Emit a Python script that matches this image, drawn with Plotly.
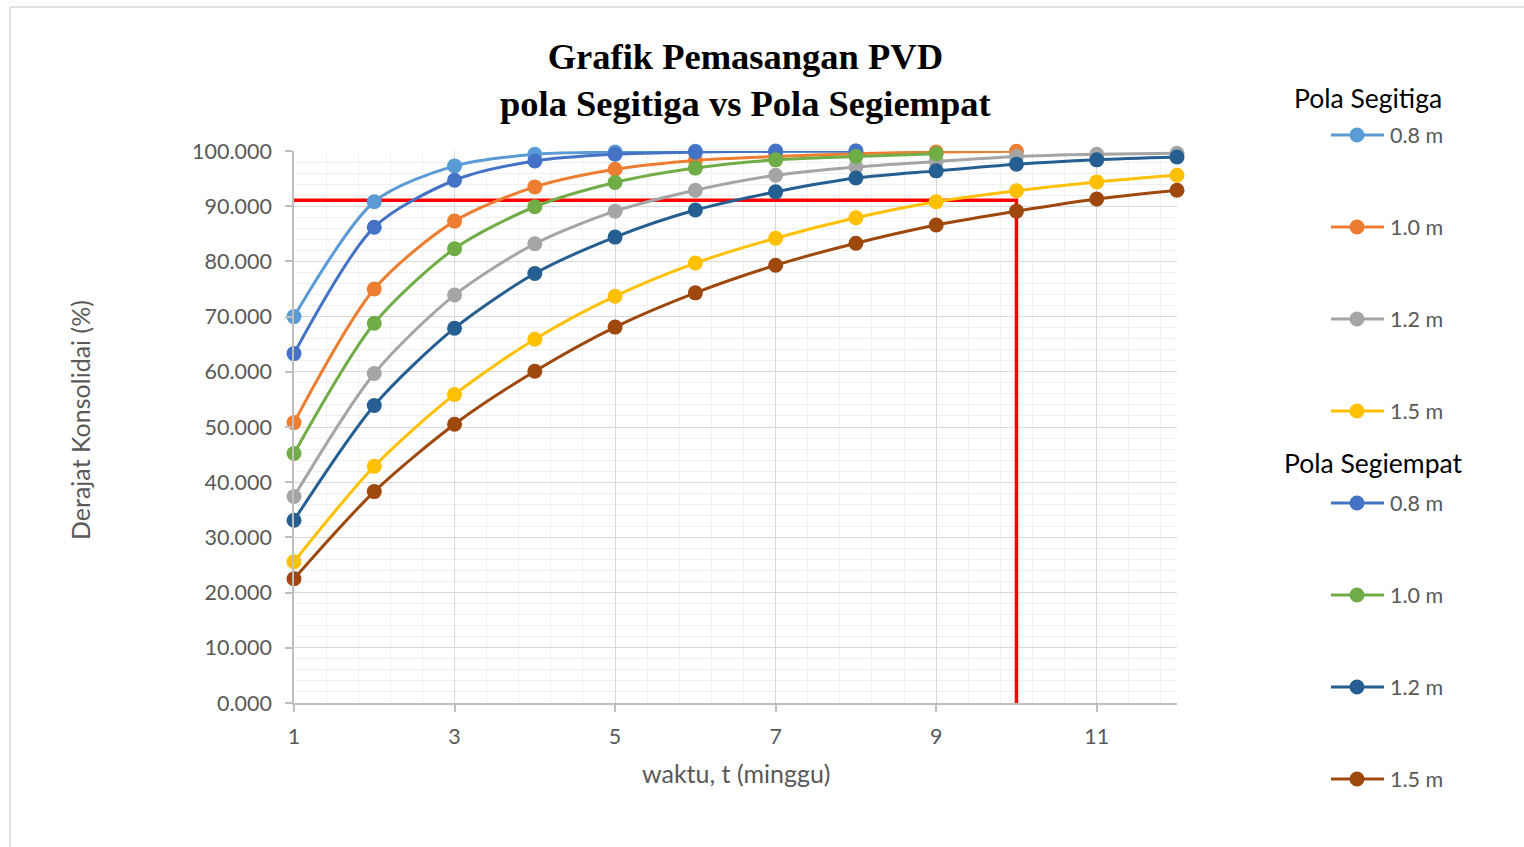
import plotly.graph_objects as go

# ---------------- data ----------------
weeks = [1, 2, 3, 4, 5, 6, 7, 8, 9, 10, 11, 12]

segitiga_labels = ["0.8 m", "1.0 m", "1.2 m", "1.5 m"]
segiempat_labels = ["0.8 m", "1.0 m", "1.2 m", "1.5 m"]

segitiga_08 = [70.0, 90.8, 97.3, 99.4, 99.8, 99.95, 99.99, 100.0]
segitiga_10 = [50.8, 75.0, 87.3, 93.5, 96.7, 98.3, 99.0, 99.5, 99.8, 99.95]
segitiga_12 = [37.4, 59.7, 73.9, 83.2, 89.1, 92.9, 95.6, 97.1, 98.1, 99.0, 99.4, 99.6]
segitiga_15 = [25.6, 42.9, 55.9, 65.9, 73.7, 79.7, 84.2, 87.9, 90.8, 92.8, 94.4, 95.6]

segiempat_08 = [63.3, 86.2, 94.7, 98.2, 99.4, 99.8, 99.95, 99.99]
segiempat_10 = [45.2, 68.8, 82.3, 89.9, 94.3, 96.9, 98.4, 99.0, 99.5]
segiempat_12 = [33.1, 53.9, 67.9, 77.8, 84.4, 89.3, 92.6, 95.1, 96.4, 97.6, 98.4, 98.9]
segiempat_15 = [22.5, 38.3, 50.5, 60.1, 68.1, 74.3, 79.3, 83.3, 86.6, 89.1, 91.3, 92.9]

target_degree = 91.1
target_week = 10

x_ticks = [1, 3, 5, 7, 9, 11]

segitiga_colors = ["#5B9BD5", "#ED7D31", "#A5A5A5", "#FFC000"]
segiempat_colors = ["#4472C4", "#70AD47", "#255E91", "#9E480E"]

# ---------------- figure ----------------
fig = go.Figure()

# red reference line (drawn below the series)
fig.add_trace(go.Scatter(
    x=[weeks[0], target_week, target_week],
    y=[target_degree, target_degree, 0],
    mode="lines", line=dict(color="#FF0000", width=3.5),
    showlegend=False, hoverinfo="skip", cliponaxis=False))

segitiga = [segitiga_08, segitiga_10, segitiga_12, segitiga_15]
segiempat = [segiempat_08, segiempat_10, segiempat_12, segiempat_15]

for vals, name, col in zip(segitiga, segitiga_labels, segitiga_colors):
    fig.add_trace(go.Scatter(
        x=weeks[:len(vals)], y=vals, name=name, mode="lines+markers",
        line=dict(color=col, width=3, shape="spline", smoothing=0.8),
        marker=dict(color=col, size=15), cliponaxis=False, showlegend=False))

for vals, name, col in zip(segiempat, segiempat_labels, segiempat_colors):
    fig.add_trace(go.Scatter(
        x=weeks[:len(vals)], y=vals, name=name, mode="lines+markers",
        line=dict(color=col, width=3, shape="spline", smoothing=0.8),
        marker=dict(color=col, size=15), cliponaxis=False, showlegend=False))

# ---------------- layout ----------------
L, R, T, B = 294, 1177, 151, 703
W, H = R - L, B - T


def px_x(px):
    return (px - L) / W


def px_y(py):
    return (B - py) / H


TXT = "#595959"
FONT = "Lato"

fig.update_layout(
    width=1524, height=847,
    margin=dict(l=L, r=1524 - R, t=T, b=847 - B, autoexpand=False),
    paper_bgcolor="white", plot_bgcolor="white",
    showlegend=False,
    font=dict(family=FONT, size=21, color=TXT),
)

fig.update_xaxes(
    range=[1, 12], tickmode="array", tickvals=x_ticks,
    ticks="outside", ticklen=7, tickcolor="#BFBFBF", tickwidth=1.5,
    ticklabelstandoff=6,
    showline=True, linecolor="#BFBFBF", linewidth=1.5,
    showgrid=True, gridcolor="#D9D9D9", gridwidth=1.3,
    minor=dict(dtick=0.4, tick0=1, showgrid=True, gridcolor="#F0F0F0", gridwidth=1.3),
    zeroline=False, tickfont=dict(family=FONT, size=21.5, color=TXT),
)
fig.update_yaxes(
    range=[0, 100], dtick=10, tick0=0, tickformat=".3f",
    ticks="outside", ticklen=7, tickcolor="#BFBFBF", tickwidth=1.5,
    ticklabelstandoff=9,
    showline=True, linecolor="#BFBFBF", linewidth=1.5,
    showgrid=True, gridcolor="#D9D9D9", gridwidth=1.3,
    minor=dict(dtick=2, showgrid=True, gridcolor="#F0F0F0", gridwidth=1.3),
    zeroline=False, tickfont=dict(family=FONT, size=21.5, color=TXT),
)

annotations = []
shapes = []

# title
annotations.append(dict(
    text="<b>Grafik Pemasangan PVD<br>pola Segitiga vs Pola Segiempat</b>",
    xref="paper", yref="paper", x=px_x(745), y=px_y(80), xanchor="center", yanchor="middle",
    showarrow=False, font=dict(family="Liberation Serif", size=36.5, color="#000000")))

# axis titles
annotations.append(dict(
    text="waktu, t (minggu)", xref="paper", yref="paper",
    x=px_x(736), y=px_y(773), xanchor="center", yanchor="middle", showarrow=False,
    font=dict(family=FONT, size=25, color=TXT)))
annotations.append(dict(
    text="Derajat Konsolidai (%)", xref="paper", yref="paper",
    x=px_x(80), y=px_y(420), xanchor="center", yanchor="middle", showarrow=False,
    textangle=-90, font=dict(family=FONT, size=25, color=TXT)))

# manual legend
groups = [
    ("Pola Segitiga", 1368, 98, 135, segitiga_labels, segitiga_colors),
    ("Pola Segiempat", 1373, 463, 503, segiempat_labels, segiempat_colors),
]
for title, tx, ty, y0, labels, cols in groups:
    annotations.append(dict(
        text=title, xref="paper", yref="paper", x=px_x(tx), y=px_y(ty),
        xanchor="center", yanchor="middle", showarrow=False,
        font=dict(family=FONT, size=26.5, color="#000000")))
    for i, (lab, col) in enumerate(zip(labels, cols)):
        yy = px_y(y0 + 92 * i)
        shapes.append(dict(type="line", xref="paper", yref="paper",
                           x0=px_x(1331), x1=px_x(1384), y0=yy, y1=yy,
                           line=dict(color=col, width=3)))
        shapes.append(dict(type="circle", xref="paper", yref="paper",
                           xsizemode="pixel", ysizemode="pixel",
                           xanchor=px_x(1357), yanchor=yy,
                           x0=-7.5, x1=7.5, y0=-7.5, y1=7.5,
                           fillcolor=col, line=dict(color=col, width=0)))
        annotations.append(dict(
            text=lab, xref="paper", yref="paper", x=px_x(1388), y=yy,
            xanchor="left", yanchor="middle", showarrow=False,
            font=dict(family=FONT, size=21.5, color=TXT)))

# chart border (top and left edges visible)
shapes.append(dict(type="line", xref="paper", yref="paper",
                   x0=px_x(10), x1=px_x(1530), y0=px_y(7), y1=px_y(7),
                   line=dict(color="#D9D9D9", width=1.5)))
shapes.append(dict(type="line", xref="paper", yref="paper",
                   x0=px_x(10), x1=px_x(10), y0=px_y(7), y1=px_y(850),
                   line=dict(color="#D9D9D9", width=1.5)))

fig.update_layout(annotations=annotations, shapes=shapes)

fig.write_html("out.html")
